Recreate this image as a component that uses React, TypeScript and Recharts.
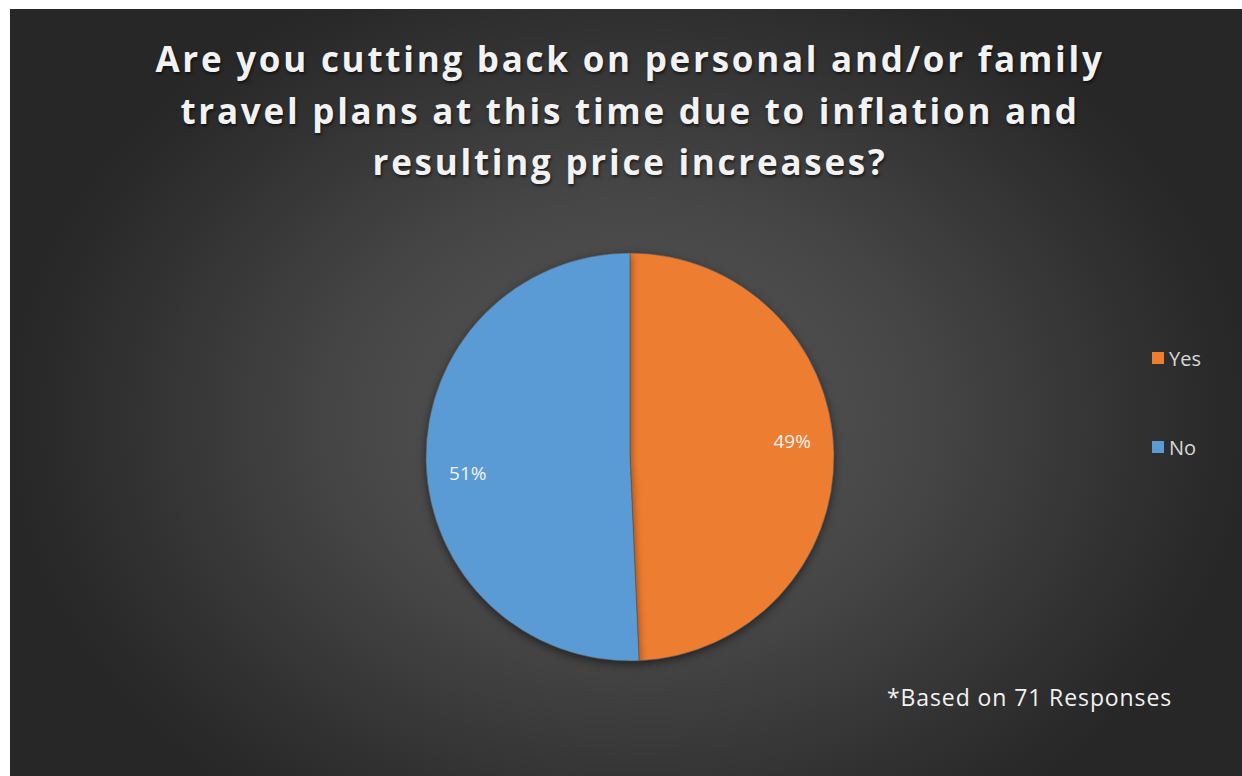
import React from 'react'
import { PieChart, Pie, Cell, Legend } from 'recharts'

const answers = ['Yes', 'No']
const responses = [35, 36]
const sliceColors = ['#ED7D31', '#5B9BD5']

const data = answers.map((name, i) => ({ name, value: responses[i] }))
const total = responses.reduce((a, b) => a + b, 0)

const titleLines = [
  'Are you cutting back on personal and/or family',
  'travel plans at this time due to inflation and',
  'resulting price increases?',
]
const footnote = '*Based on 71 Responses'

const RAD = Math.PI / 180

const renderLabel = (props: any) => {
  const { cx, cy, midAngle, value } = props
  const a = (midAngle + 4.4) * RAD
  const r = 163
  const x = cx + r * Math.cos(a)
  const y = cy - r * Math.sin(a)
  return (
    <text
      x={x}
      y={y}
      fill="#f2f2f2"
      textAnchor="middle"
      dominantBaseline="central"
      fontFamily="'Open Sans', sans-serif"
      fontSize={19}
    >
      {Math.round((value / total) * 100) + '%'}
    </text>
  )
}

const renderLegend = (props: any) => {
  const payload = [...(props.payload || [])].sort(
    (a: any, b: any) => answers.indexOf(a.value) - answers.indexOf(b.value)
  )
  return (
    <div>
      {payload.map((p: any, i: number) => (
        <div
          key={p.value}
          style={{ display: 'flex', alignItems: 'center', height: 24, marginBottom: i === 0 ? 65 : 0 }}
        >
          <span style={{ width: 12, height: 12, background: p.color, marginRight: 5, display: 'inline-block' }} />
          <span style={{ color: '#d9d9d9', fontSize: 20, fontFamily: "'Open Sans', sans-serif" }}>{p.value}</span>
        </div>
      ))}
    </div>
  )
}

const App = () => {
  return (
    <div style={{ position: 'fixed', left: 0, top: 0, width: 1242, height: 776, background: '#fff' }}>
      <div
        style={{
          position: 'absolute',
          left: 10,
          top: 9,
          width: 1232,
          height: 767,
          background: 'radial-gradient(ellipse 620px 480px at 620px 410px, #575757 0%, #474747 45%, #2f2f2f 85%, #272727 100%)',
          overflow: 'hidden',
        }}
      >
        <div
          style={{
            position: 'absolute',
            left: 0,
            top: 24,
            width: 1240,
            textAlign: 'center',
            color: '#f2f2f2',
            fontFamily: "'Open Sans', sans-serif",
            fontWeight: 700,
            fontSize: 35,
            letterSpacing: 2.75,
            lineHeight: '51.5px',
            textShadow: '1px 2px 3px rgba(0,0,0,0.6)',
          }}
        >
          {titleLines.map((t) => (
            <div key={t}>{t}</div>
          ))}
        </div>
        <PieChart
          width={1232}
          height={767}
          margin={{ top: 0, right: 0, bottom: 0, left: 0 }}
          style={{ position: 'absolute', left: 0, top: 0 }}
        >
          <Pie
            data={data}
            dataKey="value"
            nameKey="name"
            cx={620}
            cy={448}
            outerRadius={204}
            startAngle={90}
            endAngle={-270}
            stroke="#5a5a5a"
            strokeWidth={0.6}
            label={renderLabel}
            labelLine={false}
            isAnimationActive={false}
            style={{ filter: 'drop-shadow(0px 3px 4px rgba(0,0,0,0.5))' }}
          >
            {data.map((d, i) => (
              <Cell key={d.name} fill={sliceColors[i]} />
            ))}
          </Pie>
          <Legend
            content={renderLegend}
            layout="vertical"
            wrapperStyle={{ position: 'absolute', left: 1142, top: 337, width: 80 }}
          />
        </PieChart>
        <div
          style={{
            position: 'absolute',
            left: 877,
            top: 672,
            color: '#f2f2f2',
            fontFamily: "'Open Sans', sans-serif",
            fontSize: 23,
            letterSpacing: 0.9,
          }}
        >
          {footnote}
        </div>
      </div>
    </div>
  )
}

export default App
